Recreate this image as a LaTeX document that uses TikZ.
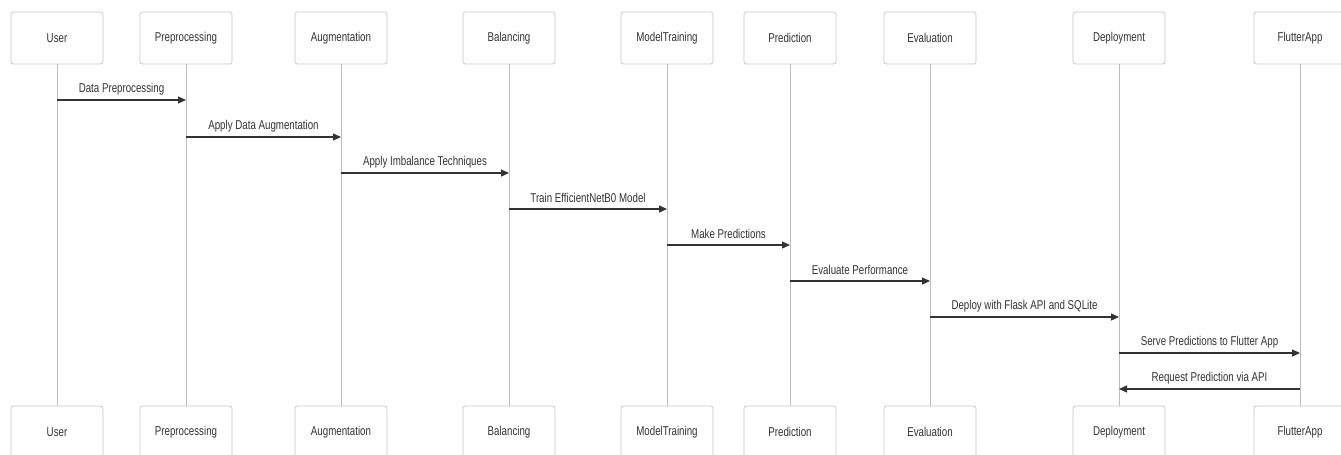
\documentclass[tikz,border=0pt]{standalone}
\usepackage{fontspec}
\setmainfont{Liberation Sans}[FakeStretch=0.76]
\usetikzlibrary{arrows.meta,calc}
\definecolor{boxline}{HTML}{C8C8C8}
\definecolor{lifeline}{HTML}{BDBDBD}
\definecolor{ink}{HTML}{333333}
\tikzset{
  actor/.style={draw=boxline, line width=0.8pt, fill=white, rounded corners=2.5pt,
    minimum width=92pt, minimum height=52pt, inner sep=0pt,
    font=\fontsize{12.8}{14}\selectfont, text=ink},
  life/.style={draw=lifeline, line width=1pt},
  msg/.style={draw=ink, line width=1.2pt, -{Triangle[length=8pt,width=7pt]}},
  msglabel/.style={font=\fontsize{12.8}{14}\selectfont, text=ink, inner sep=0pt}
}
\begin{document}
\begin{tikzpicture}[x=1pt,y=-1pt]
  \useasboundingbox (0,0) rectangle (1341,455);
  \clip (0,0) rectangle (1341,455);
  \fill[white] (0,0) rectangle (1341,455);

  % participants: name / centre x / label
  \foreach \n/\x/\t in {user/57/User, pre/186/Preprocessing, aug/341/Augmentation,
      bal/509/Balancing, mt/667/ModelTraining, pred/790/Prediction,
      eval/930/Evaluation, dep/1119/Deployment, app/1300/FlutterApp}{
    \node[actor] (\n-top) at (\x,38) {\t};
    \node[actor] (\n-bot) at (\x,432) {\t};
    \draw[life] (\n-top.south) -- (\n-bot.north);
  }

  % messages: from / to / y / text
  \foreach \a/\b/\y/\t in {
      user/pre/100/Data Preprocessing,
      pre/aug/137/Apply Data Augmentation,
      aug/bal/173/Apply Imbalance Techniques,
      bal/mt/209/Train EfficientNetB0 Model,
      mt/pred/245/Make Predictions,
      pred/eval/281/Evaluate Performance,
      eval/dep/317/Deploy with Flask API and SQLite,
      dep/app/353/Serve Predictions to Flutter App,
      app/dep/389/Request Prediction via API}{
    \coordinate (\a-\b-s) at (\a-top.south |- 0,\y);
    \coordinate (\a-\b-e) at (\b-top.south |- 0,\y);
    \draw[msg] (\a-\b-s) -- (\a-\b-e);
    \node[msglabel] (\a-\b-lbl) at ($(\a-\b-s)!0.5!(\a-\b-e) + (0,-11)$) {\t};
  }
\end{tikzpicture}
\end{document}
